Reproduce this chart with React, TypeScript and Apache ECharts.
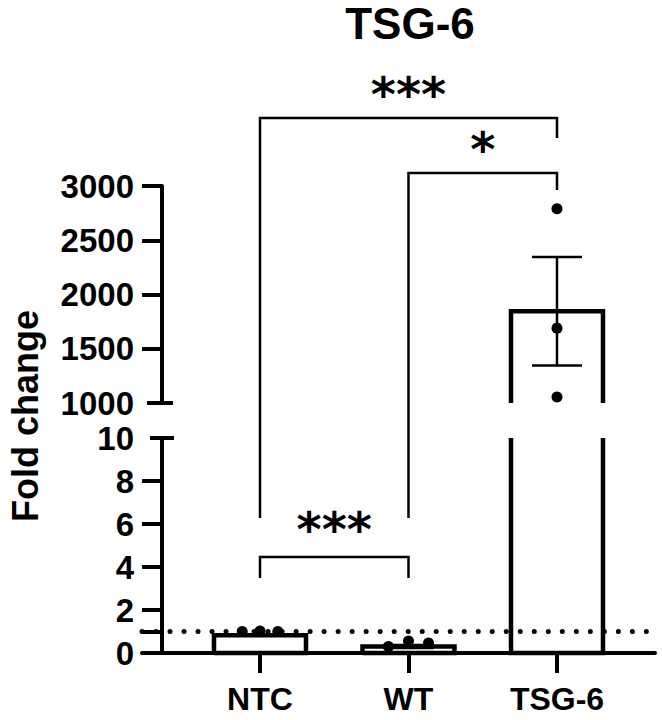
import React, { useEffect, useRef } from 'react';
import * as echarts from 'echarts';

// ---- data ----
const CATEGORIES = ['NTC', 'WT', 'TSG-6'];
const MEANS = [0.82, 0.3, 1845];
const SEMS = [0.02, 0.07, 500];
const POINTS_NTC = [1.0, 1.02, 1.0];
const POINTS_WT = [0.3, 0.56, 0.46];
const POINTS_TSG6 = [2790, 1690, 1055];
const UPPER_LABELS = [1000, 1500, 2000, 2500, 3000];
const LOWER_LABELS = [0, 2, 4, 6, 8, 10];
const LOWER_TICKS = [0, 1, 2, 4, 6, 8];
const UPPER_TICKS = [1500, 2000, 2500, 3000];
const REFERENCE_LINE = 1;
const SIGNIFICANCE = [
  { from: 0, to: 2, label: '***' },
  { from: 1, to: 2, label: '*' },
  { from: 0, to: 1, label: '***' },
];

// ---- style / layout ----
const FONT = '"Liberation Sans", Arial, sans-serif';
const JITTER = [[-0.12, 0, 0.12], [-0.135, 0, 0.135], [0, 0, 0]];
const UPPER = { min: 1000, max: 3000 };
const LOWER = { min: 0, max: 10 };
const X_MIN = -0.7946;
const X_MAX = 2.66;
const BAR_W = 92;
const GRID_LEFT = 142;
const GRID_RIGHT = 7;
const AXIS_X = 162;

const GROUP_POINTS = [POINTS_NTC, POINTS_WT, POINTS_TSG6];

function barRenderer(lim: { min: number; max: number }) {
  return (params: any, api: any) => {
    const x = api.value(0);
    const v = api.value(1);
    if (v <= lim.min) return null;
    const top = Math.min(v, lim.max);
    const base = Math.max(0, lim.min);
    const pTop = api.coord([x, top]);
    const pBase = api.coord([x, base]);
    const l = pTop[0] - BAR_W / 2;
    const r = pTop[0] + BAR_W / 2;
    const yT = pTop[1];
    const yB = pBase[1];
    const openTop = v > lim.max;
    const openBottom = lim.min > 0;
    let pts: number[][];
    if (openTop) pts = [[l, yT], [l, yB], [r, yB], [r, yT]];
    else if (openBottom) pts = [[l, yB], [l, yT], [r, yT], [r, yB]];
    else pts = [[l, yB], [l, yT], [r, yT], [r, yB], [l, yB]];
    return {
      type: 'group',
      children: [
        { type: 'rect', shape: { x: l, y: yT, width: r - l, height: yB - yT }, style: { fill: '#fff' } },
        { type: 'polyline', shape: { points: pts }, style: { stroke: '#000', lineWidth: 4.5, fill: 'none', lineJoin: 'miter' } },
      ],
    };
  };
}

function errRenderer(lim: { min: number; max: number }) {
  return (params: any, api: any) => {
    const x = api.value(0);
    const m = api.value(1);
    const s = api.value(2);
    const hi = m + s;
    const lo = m - s;
    if (hi <= lim.min || lo >= lim.max) return null;
    const pHi = api.coord([x, Math.min(hi, lim.max)]);
    const pLo = api.coord([x, Math.max(lo, lim.min)]);
    const cx = pHi[0];
    const children: any[] = [
      { type: 'line', shape: { x1: cx, y1: pHi[1], x2: cx, y2: pLo[1] }, style: { stroke: '#000', lineWidth: 2.5 } },
    ];
    if (hi <= lim.max) children.push({ type: 'line', shape: { x1: cx - 25, y1: pHi[1], x2: cx + 25, y2: pHi[1] }, style: { stroke: '#000', lineWidth: 2.5 } });
    if (lo >= lim.min) children.push({ type: 'line', shape: { x1: cx - 25, y1: pLo[1], x2: cx + 25, y2: pLo[1] }, style: { stroke: '#000', lineWidth: 2.5 } });
    return { type: 'group', children };
  };
}

export default function App() {
  const ref = useRef<HTMLDivElement>(null);
  useEffect(() => {
    const chart = echarts.init(ref.current!, null, { renderer: 'svg' });

    const barData = CATEGORIES.map((c, i) => [i, MEANS[i]]);
    const errData = CATEGORIES.map((c, i) => [i, MEANS[i], SEMS[i]]);
    const pts: number[][] = [];
    GROUP_POINTS.forEach((g, i) => g.forEach((v, j) => pts.push([i + JITTER[i][j], v])));
    const upperPts = pts.filter((p) => p[1] >= UPPER.min && p[1] <= UPPER.max);
    const lowerPts = pts.filter((p) => p[1] >= LOWER.min && p[1] <= LOWER.max);

    const axisLine = { show: true, onZero: false, lineStyle: { color: '#000', width: 4 } };
    const labelStyle = { color: '#000', fontSize: 33, fontWeight: 'bold' as const, fontFamily: FONT };
    const plain = (v: number) => String(v);

    const option: any = {
      animation: false,
      backgroundColor: '#fff',
      title: {
        text: 'TSG-6',
        left: 410,
        top: 1,
        textAlign: 'center',
        padding: 0,
        textStyle: { fontSize: 44, fontWeight: 'bold', fontFamily: FONT, color: '#000' },
      },
      grid: [
        { left: GRID_LEFT, right: GRID_RIGHT, top: 186, height: 217 },
        { left: GRID_LEFT, right: GRID_RIGHT, top: 438, height: 215 },
      ],
      xAxis: [
        { gridIndex: 0, type: 'value', min: X_MIN, max: X_MAX, show: false },
        {
          gridIndex: 1,
          type: 'value',
          min: X_MIN,
          max: X_MAX,
          axisLine,
          splitLine: { show: false },
          axisTick: { show: true, length: 20, customValues: [0, 1, 2], lineStyle: { color: '#000', width: 4 } },
          axisLabel: {
            ...labelStyle,
            fontSize: 32,
            margin: 30,
            customValues: [0, 1, 2],
            formatter: (v: number) => CATEGORIES[Math.round(v)] ?? '',
          },
        },
      ],
      yAxis: [
        {
          gridIndex: 0,
          type: 'value',
          min: UPPER.min,
          max: UPPER.max,
          offset: GRID_LEFT - AXIS_X,
          axisLine,
          splitLine: { show: false },
          axisTick: { show: true, length: 20, customValues: UPPER_TICKS, lineStyle: { color: '#000', width: 4 } },
          axisLabel: { ...labelStyle, margin: 28, customValues: UPPER_LABELS, formatter: plain },
        },
        {
          gridIndex: 1,
          type: 'value',
          min: LOWER.min,
          max: LOWER.max,
          offset: GRID_LEFT - AXIS_X,
          axisLine,
          splitLine: { show: false },
          axisTick: { show: true, length: 20, customValues: LOWER_TICKS, lineStyle: { color: '#000', width: 4 } },
          axisLabel: { ...labelStyle, margin: 28, customValues: LOWER_LABELS, formatter: plain },
        },
      ],
      series: [
        {
          type: 'line',
          xAxisIndex: 1,
          yAxisIndex: 1,
          data: [],
          z: 1,
          markLine: {
            silent: true,
            symbol: 'none',
            label: { show: false },
            lineStyle: { color: '#000', width: 5, type: [0.01, 14], cap: 'round' },
            data: [{ yAxis: REFERENCE_LINE }],
          },
        },
        { type: 'custom', xAxisIndex: 0, yAxisIndex: 0, data: barData, renderItem: barRenderer(UPPER), z: 3 },
        { type: 'custom', xAxisIndex: 1, yAxisIndex: 1, data: barData, renderItem: barRenderer(LOWER), z: 3 },
        { type: 'custom', xAxisIndex: 0, yAxisIndex: 0, data: errData, renderItem: errRenderer(UPPER), z: 4 },
        { type: 'custom', xAxisIndex: 1, yAxisIndex: 1, data: errData, renderItem: errRenderer(LOWER), z: 4 },
        { type: 'scatter', xAxisIndex: 0, yAxisIndex: 0, data: upperPts, symbol: 'circle', symbolSize: 11, itemStyle: { color: '#000', opacity: 1 }, z: 5 },
        { type: 'scatter', xAxisIndex: 1, yAxisIndex: 1, data: lowerPts, symbol: 'circle', symbolSize: 11, itemStyle: { color: '#000', opacity: 1 }, z: 5 },
      ],
    };
    chart.setOption(option);

    const px = (i: number) => chart.convertToPixel({ xAxisIndex: 1 }, i) as number;
    const pyU = (v: number) => chart.convertToPixel({ yAxisIndex: 0 }, v) as number;
    const pyL = (v: number) => chart.convertToPixel({ yAxisIndex: 1 }, v) as number;

    // bracket geometry in pixels: [top, leftLegEnd, rightLegEnd, textY]
    const BRACKET_GEOM = [
      [118, 518, 138, 94],
      [173, 518, 190, 149],
      [557, 578, 578, 529],
    ];
    const stroke = { stroke: '#000', lineWidth: 2.5, fill: 'none' };
    const graphics: any[] = [];
    SIGNIFICANCE.forEach((s, k) => {
      const [top, le, re, ty] = BRACKET_GEOM[k];
      const xl = px(s.from);
      const xr = px(s.to);
      graphics.push({ type: 'polyline', shape: { points: [[xl, le], [xl, top], [xr, top], [xr, re]] }, style: stroke, z: 10 });
      graphics.push({
        type: 'text',
        x: (xl + xr) / 2,
        y: ty,
        style: { text: s.label, font: 'bold 48px "DejaVu Sans"', fill: '#000', align: 'center', verticalAlign: 'middle', textAlign: 'center', textVerticalAlign: 'middle' },
        z: 10,
      });
    });
    // axis break marks
    graphics.push({ type: 'line', shape: { x1: 147, y1: pyU(UPPER.min), x2: 173, y2: pyU(UPPER.min) }, style: { stroke: '#000', lineWidth: 4 }, z: 10 });
    graphics.push({ type: 'line', shape: { x1: 150, y1: pyL(LOWER.max), x2: 174, y2: pyL(LOWER.max) }, style: { stroke: '#000', lineWidth: 4 }, z: 10 });
    // y axis name
    graphics.push({
      type: 'text',
      x: 25,
      y: 416,
      rotation: Math.PI / 2,
      style: { text: 'Fold change', font: `bold 36px ${FONT}`, fill: '#000', align: 'center', verticalAlign: 'middle', textAlign: 'center', textVerticalAlign: 'middle' },
      z: 10,
    });
    chart.setOption({ graphic: graphics });

    return () => chart.dispose();
  }, []);
  return <div ref={ref} style={{ position: 'absolute', left: 0, top: 0, width: 662, height: 720 }} />;
}
